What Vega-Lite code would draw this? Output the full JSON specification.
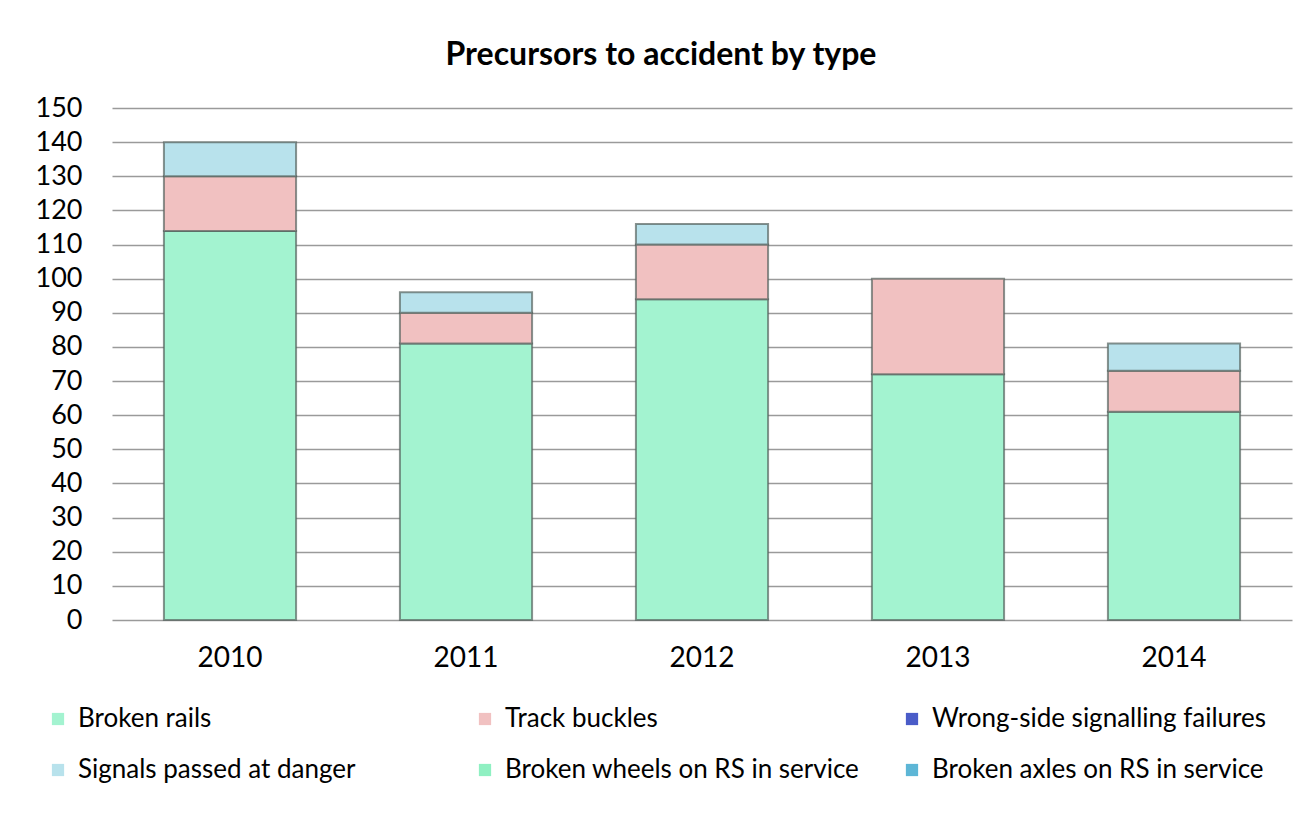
{
  "$schema": "https://vega.github.io/schema/vega-lite/v6.json",
  "autosize": "none",
  "width": 1180,
  "height": 512,
  "padding": {"left": 112, "top": 108, "right": 5, "bottom": 193},
  "background": "white",
  "title": {
    "text": "Precursors to accident by type",
    "font": "Lato",
    "fontSize": 32,
    "fontWeight": "bold",
    "color": "#000000",
    "anchor": "middle",
    "dx": -41,
    "offset": 22
  },
  "data": {
    "values": [
      {"year": "2010", "type": "Broken rails", "count": 114},
      {"year": "2010", "type": "Track buckles", "count": 16},
      {"year": "2010", "type": "Signals passed at danger", "count": 10},
      {"year": "2011", "type": "Broken rails", "count": 81},
      {"year": "2011", "type": "Track buckles", "count": 9},
      {"year": "2011", "type": "Signals passed at danger", "count": 6},
      {"year": "2012", "type": "Broken rails", "count": 94},
      {"year": "2012", "type": "Track buckles", "count": 16},
      {"year": "2012", "type": "Signals passed at danger", "count": 6},
      {"year": "2013", "type": "Broken rails", "count": 72},
      {"year": "2013", "type": "Track buckles", "count": 28},
      {"year": "2014", "type": "Broken rails", "count": 61},
      {"year": "2014", "type": "Track buckles", "count": 12},
      {"year": "2014", "type": "Signals passed at danger", "count": 8}
    ]
  },
  "transform": [
    {"calculate": "indexof(['Broken rails', 'Track buckles', 'Wrong-side signalling failures', 'Signals passed at danger', 'Broken wheels on RS in service', 'Broken axles on RS in service'], datum.type)", "as": "stackRank"}
  ],
  "mark": {"type": "bar", "stroke": "#55625e", "strokeWidth": 2, "strokeOpacity": 0.7},
  "encoding": {
    "x": {
      "field": "year",
      "type": "ordinal",
      "scale": {"paddingInner": 0.44, "paddingOuter": 0.22},
      "axis": {
        "title": null,
        "labelAngle": 0,
        "labelFont": "Lato",
        "labelFontSize": 28,
        "labelColor": "#000000",
        "labelPadding": 24,
        "domain": false,
        "ticks": false,
        "grid": false
      }
    },
    "y": {
      "field": "count",
      "type": "quantitative",
      "stack": "zero",
      "scale": {"domain": [0, 150], "nice": false},
      "axis": {
        "title": null,
        "values": [0, 10, 20, 30, 40, 50, 60, 70, 80, 90, 100, 110, 120, 130, 140, 150],
        "labelFont": "Lato",
        "labelFontSize": 27,
        "labelColor": "#000000",
        "labelPadding": 30,
        "domain": false,
        "ticks": false,
        "grid": true,
        "gridColor": "#9a9a9a",
        "gridWidth": 1.5
      }
    },
    "order": {"field": "stackRank", "type": "quantitative", "sort": "ascending"},
    "color": {
      "field": "type",
      "type": "nominal",
      "sort": ["Broken rails", "Track buckles", "Wrong-side signalling failures", "Signals passed at danger", "Broken wheels on RS in service", "Broken axles on RS in service"],
      "scale": {
        "domain": ["Broken rails", "Track buckles", "Wrong-side signalling failures", "Signals passed at danger", "Broken wheels on RS in service", "Broken axles on RS in service"],
        "range": ["#a3f3d0", "#f1c1c1", "#4a5cc8", "#b8e2ec", "#8ff0c2", "#5db6d6"]
      },
      "legend": {
        "title": null,
        "orient": "none",
        "legendX": -67,
        "legendY": 598,
        "direction": "horizontal",
        "columns": 3,
        "gridAlign": "all",
        "columnPadding": 39,
        "rowPadding": 25,
        "symbolType": "square",
        "symbolSize": 150,
        "symbolStrokeWidth": 0,
        "labelFont": "Lato",
        "labelFontSize": 26,
        "labelColor": "#000000",
        "labelOffset": 7,
        "labelLimit": 500
      }
    }
  },
  "config": {"view": {"stroke": null}}
}
